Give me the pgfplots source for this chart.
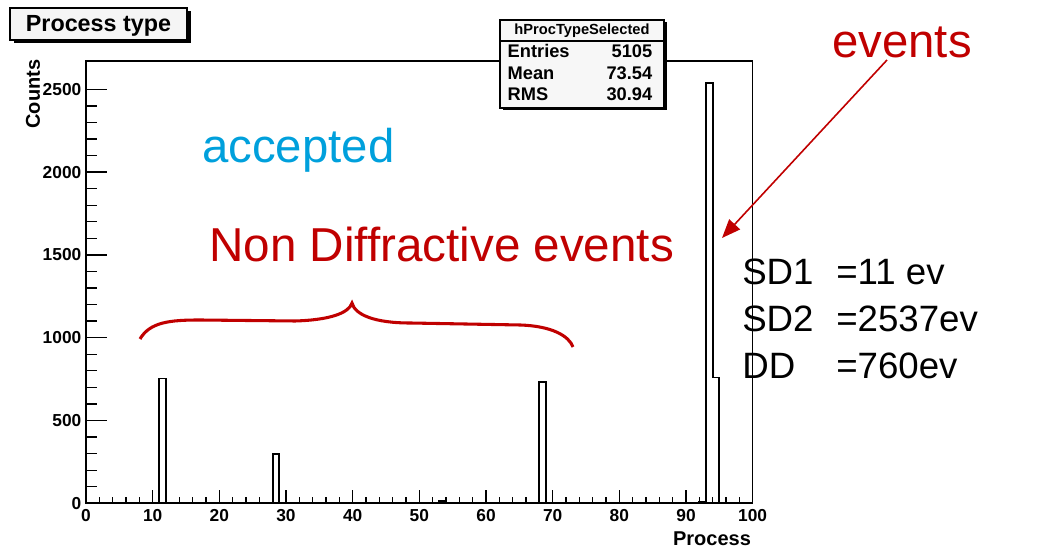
\documentclass[border=0pt]{standalone}
\usepackage{pgfplots}
\pgfplotsset{compat=1.18}
\usepackage{fontspec}
\setmainfont{Liberation Sans}
\usetikzlibrary{arrows.meta}
\definecolor{dred}{RGB}{192,0,0}
\definecolor{accblue}{RGB}{0,160,220}
\begin{document}
\begin{tikzpicture}
\useasboundingbox (0pt,0pt) rectangle (783.75pt,411pt);
\begin{axis}[at={(64.5pt,33.525pt)}, anchor=south west, scale only axis,
  width=500pt, height=331.7pt,
  xmin=0, xmax=100, ymin=0, ymax=2671,
  xtick={0,10,...,100}, ytick={0,500,...,2500},
  minor x tick num=4, minor y tick num=4,
  tick align=inside, tick pos=left,
  xtick style={/pgfplots/major tick length=10pt,/pgfplots/minor tick length=5pt,line width=1pt,black},
  ytick style={/pgfplots/major tick length=16pt,/pgfplots/minor tick length=8pt,line width=1pt,black},
  axis line style={line width=1.2pt},
  /pgf/number format/assume math mode=true,
  /pgf/number format/1000 sep={},
  scaled y ticks=false,
  ticklabel style={font=\fontsize{13}{15}\selectfont\bfseries},
  xticklabel style={yshift=-1pt},
  xlabel={Process}, ylabel={Counts},
  xlabel style={at={(axis description cs:0.939,-0.079)}, anchor=center, font=\fontsize{15}{18}\selectfont\bfseries},
  ylabel style={at={(axis description cs:-0.0795,0.925)}, anchor=center, font=\fontsize{15}{18}\selectfont\bfseries},
]
\addplot[const plot, line width=1.3pt, black] coordinates {
  (0,0) (11,754) (12,0) (28,296) (29,0) (53,16) (54,0) (68,731) (69,0)
  (92,11) (93,2537) (94,760) (95,0) (100,0)};
\end{axis}
\begin{scope}[x=0.75pt,y=0.75pt]
% title box
\fill[black] (13.5,536.5) rectangle (190.5,504.5);
\filldraw[fill=gray!8, draw=black, line width=0.8pt] (10,540) rectangle (187,508);
\node[anchor=base] at (98.5,516) {\fontsize{17.5}{20}\selectfont\bfseries Process type};
% stats box
\fill[black] (502.5,525.5) rectangle (666.5,437.5);
\filldraw[fill=gray!6, draw=black, line width=0.8pt] (500,528) rectangle (664,440);
\draw[line width=0.8pt] (500,507) -- (664,507);
\node[anchor=base] at (582,513) {\fontsize{11}{13}\selectfont\bfseries hProcTypeSelected};
\node[anchor=base west] at (503,490) {\fontsize{13.7}{16}\selectfont\bfseries Entries};
\node[anchor=base east] at (657,490) {\fontsize{13.7}{16}\selectfont\bfseries 5105};
\node[anchor=base west] at (503,468) {\fontsize{13.7}{16}\selectfont\bfseries Mean};
\node[anchor=base east] at (657,468) {\fontsize{13.7}{16}\selectfont\bfseries 73.54};
\node[anchor=base west] at (503,447) {\fontsize{13.7}{16}\selectfont\bfseries RMS};
\node[anchor=base east] at (657,447) {\fontsize{13.7}{16}\selectfont\bfseries 30.94};
% annotations
\node[anchor=base west, inner sep=0pt, text=accblue] at (202,385) {\fontsize{35.5}{42}\selectfont accepted};
\node[anchor=base west, inner sep=0pt, text=dred] at (209,286) {\fontsize{35.7}{42}\selectfont Non Diffractive events};
\node[anchor=base west, inner sep=0pt, text=dred] at (832,490) {\fontsize{35.5}{42}\selectfont events};
\draw[dred, line width=1.2pt, -{Triangle[length=14pt,width=11pt]}] (887,488) -- (722,310);
\draw[dred, line width=2.3pt] (140,209) .. controls (150,226) and (170,228) .. (200,228)
  -- (295,227) .. controls (330,228) and (349,235) .. (352,245)
  .. controls (355,233) and (375,225) .. (410,225)
  -- (520,223) .. controls (552,222) and (569,212) .. (573,201);
\node[anchor=base west, inner sep=0pt] at (742,263) {\fontsize{27.5}{32}\selectfont SD1};
\node[anchor=base west, inner sep=0pt] at (836,263) {\fontsize{27.5}{32}\selectfont =11 ev};
\node[anchor=base west, inner sep=0pt] at (742,216) {\fontsize{27.5}{32}\selectfont SD2};
\node[anchor=base west, inner sep=0pt] at (836,216) {\fontsize{27.5}{32}\selectfont =2537ev};
\node[anchor=base west, inner sep=0pt] at (742,169) {\fontsize{27.5}{32}\selectfont DD};
\node[anchor=base west, inner sep=0pt] at (836,169) {\fontsize{27.5}{32}\selectfont =760ev};
\end{scope}
\end{tikzpicture}
\end{document}
